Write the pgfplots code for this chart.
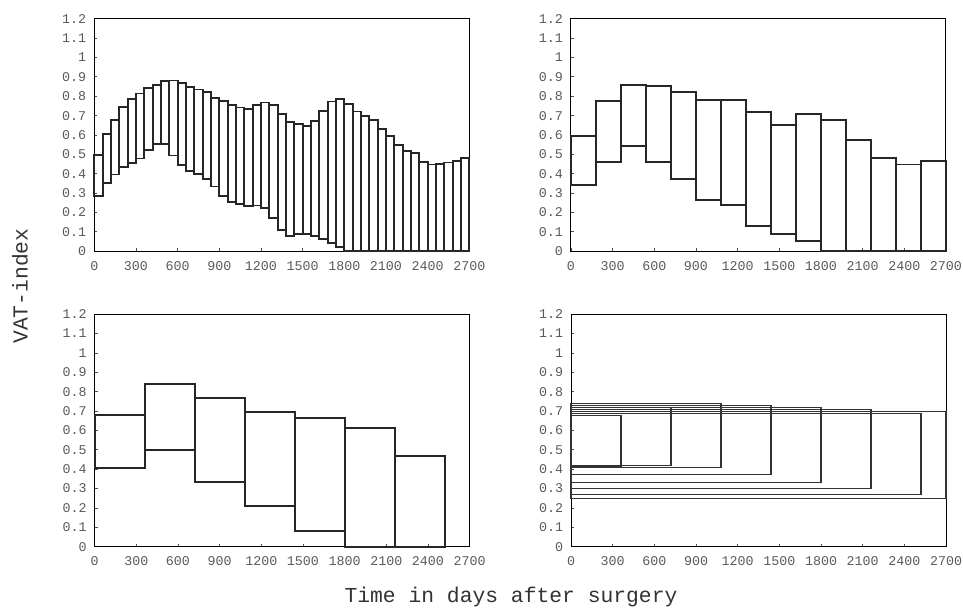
\documentclass[border=0pt]{standalone}
\usepackage{pgfplots}
\usepackage{pgfplotstable}
\pgfplotsset{compat=1.18}
\usepackage{fontspec}
\setmainfont{Liberation Mono}

\pgfplotstableread{
x0 x1 lo hi
0 60 0.283 0.498
60 120 0.352 0.606
120 180 0.396 0.679
180 240 0.436 0.743
240 300 0.455 0.787
300 360 0.479 0.814
360 420 0.523 0.843
420 480 0.555 0.860
480 540 0.555 0.878
540 600 0.494 0.881
600 660 0.446 0.867
660 720 0.413 0.848
720 780 0.397 0.835
780 840 0.374 0.820
840 900 0.334 0.792
900 960 0.285 0.774
960 1020 0.256 0.753
1020 1080 0.243 0.742
1080 1140 0.234 0.736
1140 1200 0.236 0.753
1200 1260 0.222 0.768
1260 1320 0.173 0.754
1320 1380 0.110 0.708
1380 1440 0.080 0.668
1440 1500 0.089 0.656
1500 1560 0.088 0.645
1560 1620 0.078 0.670
1620 1680 0.065 0.722
1680 1740 0.044 0.773
1740 1800 0.021 0.787
1800 1860 0 0.762
1860 1920 0 0.721
1920 1980 0 0.697
1980 2040 0 0.676
2040 2100 0 0.630
2100 2160 0 0.594
2160 2220 0 0.550
2220 2280 0 0.519
2280 2340 0 0.507
2340 2400 0 0.462
2400 2460 0 0.448
2460 2520 0 0.450
2520 2580 0 0.458
2580 2640 0 0.467
2640 2700 0 0.481
}\tA

\pgfplotstableread{
x0 x1 lo hi
0 180 0.343 0.597
180 360 0.460 0.776
360 540 0.545 0.857
540 720 0.459 0.855
720 900 0.374 0.822
900 1080 0.264 0.779
1080 1260 0.238 0.779
1260 1440 0.129 0.719
1440 1620 0.088 0.650
1620 1800 0.052 0.710
1800 1980 0 0.676
1980 2160 0 0.574
2160 2340 0 0.481
2340 2520 0 0.448
2520 2700 0 0.467
}\tB

\pgfplotstableread{
x0 x1 lo hi
0 360 0.407 0.682
360 720 0.500 0.839
720 1080 0.332 0.767
1080 1440 0.210 0.695
1440 1800 0.079 0.664
1800 2160 0 0.614
2160 2520 0 0.468
}\tC

\pgfplotstableread{
x0 x1 lo hi
0 360 0.412 0.679
0 720 0.420 0.717
0 1080 0.408 0.740
0 1440 0.372 0.728
0 1800 0.331 0.719
0 2160 0.299 0.707
0 2520 0.270 0.688
0 2700 0.250 0.698
}\tD

\newcommand\drawbox[3]{%
  \pgfplotstablegetelem{#2}{x0}\of#1\let\ba\pgfplotsretval
  \pgfplotstablegetelem{#2}{x1}\of#1\let\bb\pgfplotsretval
  \pgfplotstablegetelem{#2}{lo}\of#1\let\bl\pgfplotsretval
  \pgfplotstablegetelem{#2}{hi}\of#1\let\bh\pgfplotsretval
  \edef\tmp{\noexpand\addplot[#3] coordinates {(\ba,\bl) (\bb,\bl) (\bb,\bh) (\ba,\bh)} -- cycle;}%
  \tmp}

\pgfplotsset{
  panel/.style={
    scale only axis,
    width=281.25pt, height=174.4pt,
    xmin=0, xmax=2700, ymin=0, ymax=1.2,
    xtick={0,300,...,2700},
    ytick={0,0.1,0.2,0.3,0.4,0.5,0.6,0.7,0.8,0.9,1,1.1,1.2},
    tick pos=left, tick align=inside,
    major tick length=2.2pt,
    axis line style={line width=0.7pt, black},
    tick style={line width=0.6pt, black!70},
    /pgf/number format/assume math mode=true,
    /pgf/number format/1000 sep={},
    ticklabel style={font=\fontsize{10}{12}\selectfont, text=black!65},
    xticklabel style={yshift=-4pt},
    yticklabel style={xshift=-2.5pt},
    clip=false,
    anchor=south west,
  },
  boxst/.style={draw=black!85, line width=1.4pt, line join=miter},
  boxthin/.style={draw=black!80, line width=0.9pt, line join=miter},
}

\begin{document}
\begin{tikzpicture}
\path[use as bounding box] (0pt,0pt) rectangle (722.25pt,456.75pt);

\begin{axis}[panel, at={(70.7pt,268.3pt)}]
\pgfplotsinvokeforeach{0,...,44}{\drawbox{\tA}{#1}{boxst}}
\end{axis}

\begin{axis}[panel, at={(428.2pt,268.3pt)}]
\pgfplotsinvokeforeach{0,...,14}{\drawbox{\tB}{#1}{boxst}}
\end{axis}

\begin{axis}[panel, at={(70.95pt,46.7pt)}]
\pgfplotsinvokeforeach{0,...,6}{\drawbox{\tC}{#1}{boxst}}
\end{axis}

\begin{axis}[panel, at={(428.3pt,46.7pt)}]
\pgfplotsinvokeforeach{0,...,7}{\drawbox{\tD}{#1}{boxthin}}
\end{axis}

\node[rotate=90, font=\fontsize{16}{19}\selectfont, text=black!80] at (15pt,242.25pt) {VAT-index};
\node[font=\fontsize{16}{19}\selectfont, text=black!80] at (383.25pt,9pt) {Time in days after surgery};
\end{tikzpicture}
\end{document}
